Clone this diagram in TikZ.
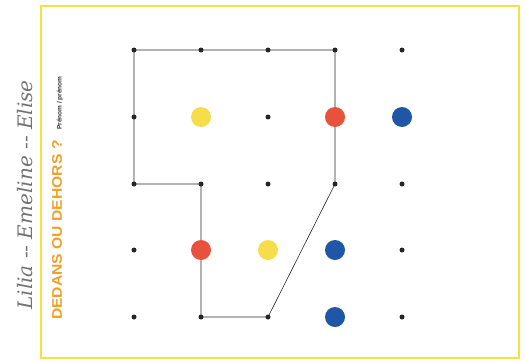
\documentclass[tikz,border=0pt]{standalone}
\usepackage{fontspec}
\setmainfont{Liberation Sans}
\newfontfamily\handfont{DejaVu Serif}
\definecolor{frameyellow}{HTML}{F2E43C}
\definecolor{dotyellow}{HTML}{F7DC4C}
\definecolor{dotred}{HTML}{E8513C}
\definecolor{dotblue}{HTML}{1F56A6}
\definecolor{titleorange}{HTML}{F0A028}
\tikzset{
  griddot/.style={circle,fill=black!85,inner sep=0pt,minimum size=5pt},
  counter/.style={circle,inner sep=0pt,minimum size=20pt},
  boundary/.style={draw=black!85,line width=0.6pt,line join=round},
}
\begin{document}
\begin{tikzpicture}[x=1pt,y=-1pt]
\useasboundingbox (0,0) rectangle (526,361);
\draw[frameyellow,line width=2pt] (41,6) rectangle (519,358);
% grid dots
\foreach \i/\x in {1/134,2/201,3/268,4/335,5/402}{
  \foreach \j/\y in {1/50,2/117,3/184,4/250,5/317}{
    \node[griddot] (p\i\j) at (\x,\y) {};
  }
}
% boundary
\draw[boundary] (p11.center) -- (p21.center) -- (p31.center) -- (p41.center)
  -- (p42.center) -- (p43.center) -- (p35.center) -- (p25.center)
  -- (p23.center) -- (p13.center) -- (p12.center) -- cycle;
% counters
\node[counter,fill=dotyellow] (c1) at (p22) {};
\node[counter,fill=dotred] (c2) at (p42) {};
\node[counter,fill=dotblue] (c3) at (p52) {};
\node[counter,fill=dotred] (c4) at (p24) {};
\node[counter,fill=dotyellow] (c5) at (p34) {};
\node[counter,fill=dotblue] (c6) at (p44) {};
\node[counter,fill=dotblue] (c7) at (p45) {};
% titles
\node[rotate=90,anchor=west,inner sep=0pt,text=titleorange,font=\bfseries\fontsize{14}{16}\selectfont] (title) at (57,320) {\scalebox{1.12}[1]{DEDANS OU DEHORS ?}};
\node[rotate=90,anchor=west,inner sep=0pt,text=black!80,font=\bfseries\fontsize{6.5}{8}\selectfont] (sub) at (60,130) {Prénom / prénom};
\node[rotate=90,text=black!55,font=\handfont\itshape\fontsize{20}{24}\selectfont] (names) at (25,195) {Lilia -- Emeline -- Elise};
\end{tikzpicture}
\end{document}
